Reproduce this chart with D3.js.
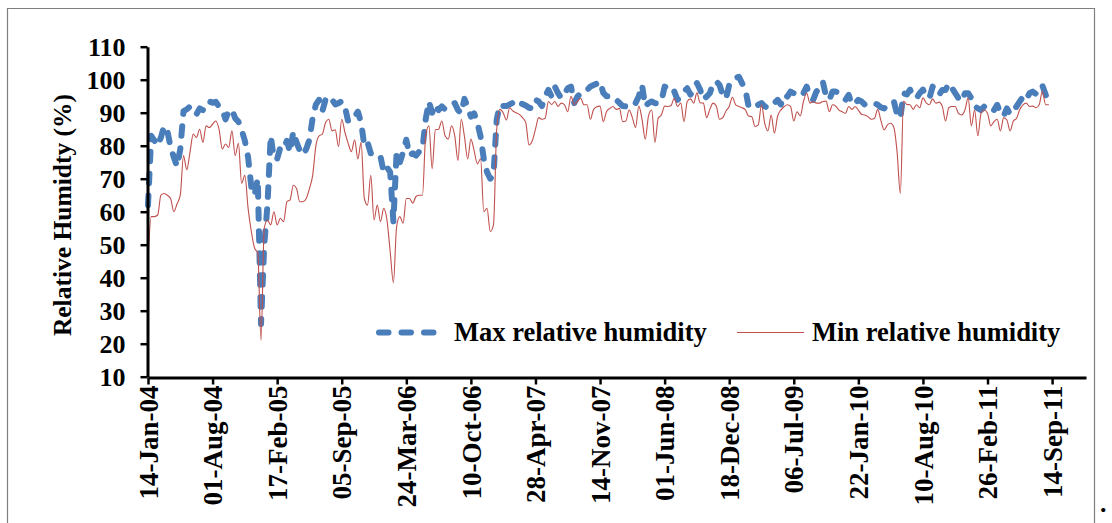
<!DOCTYPE html>
<html>
<head>
<meta charset="utf-8">
<script src="https://cdn.jsdelivr.net/npm/d3@7"></script>
<style>
  body { margin: 0; background: #fff; }
  svg { display: block; }
  text { font-family: "Liberation Serif", "Times New Roman", serif; font-weight: bold; fill: #000; }
</style>
</head>
<body>
<svg id="chart" width="1112" height="523"></svg>
<script>
// Daily-humidity record, sampled every 10 days from the first date.
const firstDate = "14-Jan-04";
const stepDays = 10;

// Maximum relative humidity (%)
const maxRH = [
  62, 83, 81.5, 80, 82.5, 86, 84.5, 79.5, 76.5, 73.7,
  79, 90.5, 91, 91.9, 90.8, 89.5, 91.3, 90.8, 93, 93.4,
  93, 93.3, 91.8, 91, 88, 90.5, 91, 88.3, 87.3, 84.8,
  81.5, 76.5, 67.5, 65, 70, 26, 50, 62, 83, 76,
  76, 79.5, 79, 81.5, 78, 84.3, 81, 78.5, 77.2, 79,
  81.8, 88.5, 92.5, 93.9, 90.5, 94, 95, 94, 92.5, 92.9,
  93.5, 91.8, 87.3, 87.8, 88.8, 90.3, 87, 80, 81, 77.7,
  77.5, 76.5, 76.7, 72, 73.5, 72, 57, 78, 75, 78,
  81.8, 77, 77.7, 77, 78.2, 79, 88, 93.4, 90, 92.5,
  90.8, 91.9, 91, 91.9, 92.4, 92.9, 90.8, 89.8, 94.2, 91.8,
  88.8, 89.8, 87, 82.8, 76, 72, 70, 71, 88, 92.4,
  92, 92, 92.5, 93, 92, 92.9, 92.6, 92.2, 91.5, 91.3,
  93.9, 93.4, 92, 94.9, 96.9, 94.9, 97.9, 95.9, 94.4, 95.9,
  97.4, 97.9, 92.9, 94.9, 95.9, 95.9, 96.9, 97.9, 98.4, 98.8,
  99.5, 96, 95, 95, 95, 93.9, 93, 92, 91.9, 91.5,
  91.9, 92.9, 95, 98.4, 91.9, 92.9, 93.4, 92.9, 92.9, 93.4,
  97.9, 97.4, 97.9, 96.4, 93.9, 94.9, 96.4, 97.4, 95.5, 96.9,
  99, 97, 93.9, 94.9, 95.9, 98.9, 99.5, 98.4, 95.4, 94.2,
  98.4, 99.9, 100.5, 100.9, 98.9, 97, 92, 91.3, 91.8, 92.4,
  92.9, 91.9, 91.4, 91.9, 92.9, 93.9, 92.5, 95.4, 94.9, 96.4,
  95.9, 94.9, 95.4, 95.9, 97.9, 94.9, 93.9, 96.4, 97.4, 99.4,
  94.9, 93.9, 96.4, 96.4, 95.9, 94.9, 93.9, 95.4, 92.5, 92.9,
  93.9, 93.4, 92.4, 92.4, 92.6, 92.9, 92.4, 91.6, 91.3, 92.4,
  92.9, 93.4, 89.5, 88.3, 95.9, 95.5, 97, 94.9, 94.4, 95.9,
  97, 95, 94.4, 97.9, 96.4, 95.4, 96.9, 96.9, 98.9, 97.5,
  95.9, 94.4, 93.4, 95.9, 95.9, 94.4, 92, 91.3, 90.8, 91.9,
  92.4, 91.3, 90.8, 92.4, 89.8, 89, 91.3, 89.5, 90.8, 91.9,
  93.4, 94.9, 93.9, 95.9, 96.4, 95.7, 97.9, 98.2, 95.5, 93
];

// Minimum relative humidity (%)
const minRH = [
  45, 58.5, 58.5, 59, 65, 65.5, 65, 64, 60, 62.4,
  65, 77, 72.7, 78, 83.5, 82.5, 85, 81, 86, 85.5,
  86.5, 87.5, 85, 79, 80.5, 79.5, 84.5, 77, 80.7, 68.6,
  71, 61, 54, 49, 47.5, 21, 55, 57.5, 56, 60,
  56, 58, 57, 63, 63.6, 68, 67, 63, 63, 64,
  67, 71, 80, 83, 83.5, 87, 88, 84.5, 84.8, 79.7,
  88, 84, 80.7, 78.2, 81.8, 76, 81, 64, 62, 71,
  57.5, 62, 57, 61, 57.5, 48, 38.5, 55.5, 58.5, 56.5,
  64, 64, 62.6, 64.6, 65, 65, 83, 86, 73, 84.8,
  85, 87.5, 83, 82, 86, 83, 75.5, 88, 82.8, 76,
  82, 78.5, 74.5, 76, 60, 61, 54, 56, 85, 91,
  90, 87.8, 91.5, 90.5, 90, 89.5, 88.5, 87, 80.2, 81.5,
  85, 88.5, 88, 88.3, 93.4, 92.5, 93.4, 91.9, 92.9, 92.4,
  90.3, 95, 92.5, 93.4, 94.4, 92.4, 92.4, 88, 91, 91.8,
  92, 87.3, 90.3, 91.3, 91.9, 91, 91.3, 87.3, 87.5, 90.8,
  88.5, 85.5, 92, 88, 82, 89, 90.8, 81, 88.3, 89.3,
  92, 91.9, 92.2, 94.4, 91.9, 92.9, 87.3, 93.4, 94.2, 92.9,
  96, 93, 92.9, 88.5, 91, 92.9, 92, 88, 88.5, 90.5,
  91.9, 94.7, 92.4, 91.9, 91.5, 90.9, 89, 88.8, 85.8, 86.3,
  92.4, 86.8, 84.5, 89.3, 83.8, 89, 90.8, 91.8, 92.4, 91.9,
  87.5, 90.3, 89, 93.4, 95.9, 92.9, 93.4, 92.9, 92.9, 93.4,
  93.5, 90.3, 92.4, 92, 90.8, 90.3, 89.8, 91.9, 91, 91.9,
  90.8, 89.5, 89.3, 88.8, 88, 88.3, 91, 87.5, 84.8, 86.3,
  86.8, 85.5, 78, 65.5, 93.5, 92.5, 92.4, 91, 92.4, 91.5,
  94.5, 93, 92.4, 94.2, 92.9, 93.2, 91.9, 87.5, 91.5, 91.9,
  91.9, 89.8, 89.3, 90.8, 94.5, 86, 90.8, 83, 89.8, 90.8,
  89.8, 86, 87.3, 88, 84.5, 88.5, 87.8, 84.5, 87.5, 88.3,
  91, 92.4, 92.9, 91.9, 92, 91.5, 92.4, 96.5, 92.4, 92.4
];

// Axis ticks
const xTickLabels = ["14-Jan-04", "01-Aug-04", "17-Feb-05", "05-Sep-05", "24-Mar-06",
  "10-Oct-06", "28-Apr-07", "14-Nov-07", "01-Jun-08", "18-Dec-08", "06-Jul-09",
  "22-Jan-10", "10-Aug-10", "26-Feb-11", "14-Sep-11"];
const yTicks = [10, 20, 30, 40, 50, 60, 70, 80, 90, 100, 110];
const seriesNames = ["Max relative humidity", "Min relative humidity"];
const axisEnd = "28-Dec-11";

const parse = d3.timeParse("%d-%b-%y");
const fmt = d3.timeFormat("%d-%b-%y");
const start = parse(firstDate);
const dates = maxRH.map((_, i) => d3.timeDay.offset(start, i * stepDays));

const svg = d3.select("#chart");

// Outer frame
svg.append("path")
  .attr("d", "M7.5,540 V8.5 H1094.5 V540")
  .attr("fill", "none").attr("stroke", "#7f7f7f").attr("stroke-width", 1.2);

const x = d3.scaleTime().domain([start, parse(axisEnd)]).range([148, 1086]);
const y = d3.scaleLinear().domain([10, 110]).range([376.7, 46.7]);

const lineMax = d3.line().x((d, i) => x(dates[i])).y(d => y(d)).curve(d3.curveLinear);
const lineMin = d3.line().x((d, i) => x(dates[i])).y(d => y(d)).curve(d3.curveMonotoneX);

const maxColor = "#4a7ebb", minColor = "#c0504d";

// Max series: heavy dashed line with round caps
svg.append("path").datum(maxRH)
  .attr("d", lineMax)
  .attr("fill", "none").attr("stroke", maxColor)
  .attr("stroke-width", 6).attr("stroke-linecap", "round").attr("stroke-linejoin", "round")
  .attr("stroke-dasharray", "9.5,12.5");

// Min series: thin solid line drawn on top
svg.append("path").datum(minRH)
  .attr("d", lineMin)
  .attr("fill", "none").attr("stroke", minColor)
  .attr("stroke-width", 1.1).attr("stroke-linejoin", "round");

// Y axis
const yAxis = svg.append("g").attr("transform", "translate(147.5,0)")
  .call(d3.axisLeft(y).tickValues(yTicks).tickSize(7).tickSizeOuter(0).tickPadding(15));
yAxis.select(".domain").attr("stroke", "#000").attr("stroke-width", 3);
yAxis.selectAll(".tick line").attr("stroke", "#000").attr("stroke-width", 2.5);
yAxis.selectAll("text").style("font-size", "26px").attr("font-family", null).attr("dy", "0.34em");

// X axis with vertical date labels
const xTickDates = xTickLabels.map(parse);
const xAxis = svg.append("g").attr("transform", "translate(0,377.5)")
  .call(d3.axisBottom(x).tickValues(xTickDates).tickSize(7).tickSizeOuter(0).tickFormat(fmt));
xAxis.select(".domain").attr("stroke", "#000").attr("stroke-width", 3);
xAxis.selectAll(".tick line").attr("stroke", "#000").attr("stroke-width", 2.5);
xAxis.selectAll("text")
  .style("font-size", "27px").attr("font-family", null)
  .attr("transform", "rotate(-90)")
  .attr("text-anchor", "end")
  .attr("x", -8).attr("y", 0).attr("dy", "0.34em");

// Y axis title
svg.append("text")
  .attr("transform", "translate(71,215) rotate(-90)")
  .attr("text-anchor", "middle")
  .style("font-size", "25.5px")
  .text("Relative Humidty (%)");

// Legend
const legend = svg.append("g");
legend.append("line").attr("x1", 379).attr("x2", 437).attr("y1", 332.5).attr("y2", 332.5)
  .attr("stroke", maxColor).attr("stroke-width", 6).attr("stroke-linecap", "round")
  .attr("stroke-dasharray", "9.5,13");
legend.append("text").attr("x", 454).attr("y", 341).style("font-size", "26.5px").text(seriesNames[0]);
legend.append("line").attr("x1", 737).attr("x2", 804).attr("y1", 332.5).attr("y2", 332.5)
  .attr("stroke", minColor).attr("stroke-width", 1.1);
legend.append("text").attr("x", 812).attr("y", 341).style("font-size", "26.5px").text(seriesNames[1]);

svg.append("text").attr("x", 1100).attr("y", 512).style("font-size", "26px").text(".");
</script>
</body>
</html>
